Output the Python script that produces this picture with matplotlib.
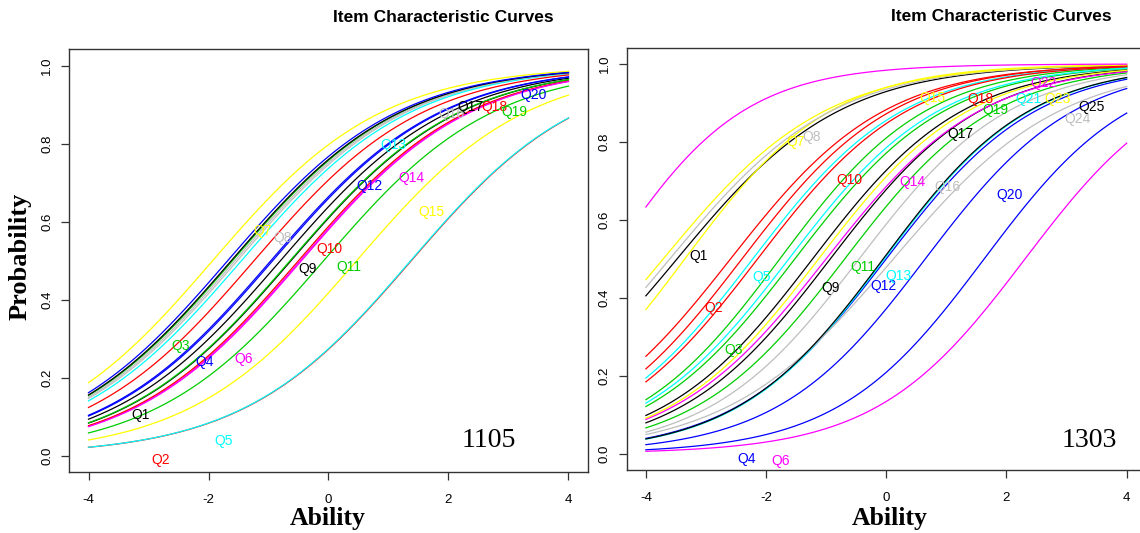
import matplotlib
matplotlib.use("Agg")
import matplotlib.pyplot as plt
import numpy as np

plt.rcParams["axes.unicode_minus"] = False

# R default palette, items cycle through it
palette = ["black", "#FF0000", "#00CD00", "#0000FF", "#00FFFF", "#FF00FF", "#FFFF00", "#BEBEBE"]

# form 1105: 20 items (discrimination, difficulty)
a_1105 = [0.71] * 20
b_1105 = [-0.80, 1.38, -1.60, -0.96, 1.37, -0.47, -1.93, -1.52, -0.625, -0.50,
          -0.08, -0.93, -1.45, -0.45, 0.47, -1.56, -1.62, -1.24, -0.64, -1.68]
labx_1105 = [-3.13, -2.79, -2.46, -2.06, -1.75, -1.41, -1.09, -0.77, -0.35, 0.02,
             0.34, 0.68, 1.08, 1.39, 1.72, 2.05, 2.36, 2.76, 3.09, 3.41]
laby_1105 = [0.105, -0.01, 0.281, 0.241, 0.037, 0.247, 0.575, 0.557, 0.479, 0.531,
             0.485, 0.692, 0.797, 0.712, 0.625, 0.875, 0.895, 0.895, 0.88, 0.926]

# form 1303: 25 items
a_1303 = [0.74, 0.80, 0.82, 0.817, 0.80, 0.808, 0.82, 0.74, 0.80, 0.80,
          0.80, 0.80, 0.82, 0.78, 0.74, 0.80, 0.80, 0.78, 0.80, 0.806,
          0.80, 0.893, 0.80, 0.72, 0.82]
b_1303 = [-3.48, -2.40, -1.77, 1.63, -2.22, 2.31, -3.35, -3.60, -0.93, -2.14,
          -0.69, 0.00, -0.03, -1.00, -3.71, -0.45, -1.225, -2.59, -1.52, 0.65,
          -1.62, -4.61, -1.125, 0.12, -0.05]
labx_1303 = [-3.13, -2.87, -2.54, -2.32, -2.07, -1.75, -1.51, -1.25, -0.93, -0.61,
             -0.39, -0.05, 0.20, 0.43, 0.76, 1.01, 1.24, 1.56, 1.81, 2.05,
             2.36, 2.61, 2.85, 3.18, 3.42]
laby_1303 = [0.508, 0.374, 0.267, -0.015, 0.453, -0.018, 0.801, 0.813, 0.424, 0.701,
             0.479, 0.431, 0.457, 0.697, 0.912, 0.685, 0.819, 0.909, 0.882, 0.665,
             0.910, 0.952, 0.910, 0.858, 0.889]

ability = np.linspace(-4, 4, 101)

fig = plt.figure(figsize=(11.4, 5.33), dpi=100)
ax1 = fig.add_axes([0.0608, 0.1144, 0.4547, 0.7931])
ax2 = fig.add_axes([0.5497, 0.1182, 0.4555, 0.7925])


def draw_panel(ax, a, b, labx, laby, form, form_pos):
    for i in range(len(a)):
        col = palette[i % 8]
        p = 1 / (1 + np.exp(-a[i] * (ability - b[i])))
        ax.plot(ability, p, color=col, lw=0.9)
        ax.text(labx[i], laby[i], "Q%d" % (i + 1), color=col, fontsize=10,
                ha="center", va="center", family="Liberation Sans")
    ax.text(form_pos[0], form_pos[1], form, fontsize=20, family="Liberation Serif",
            ha="center", va="center")
    ax.set_xlim(-4.32, 4.32)
    ax.set_ylim(-0.042, 1.042)
    ax.set_xticks([-4, -2, 0, 2, 4])
    ax.set_yticks([0, 0.2, 0.4, 0.6, 0.8, 1.0])
    ax.set_yticklabels(["0.0", "0.2", "0.4", "0.6", "0.8", "1.0"])
    ax.tick_params(direction="out", length=5.5, width=0.9, color="#333333",
                   labelsize=9.5, labelfontfamily="Liberation Sans")
    ax.tick_params(axis="x", pad=10)
    ax.tick_params(axis="y", pad=6, labelrotation=90)
    for lab in ax.get_yticklabels():
        lab.set_va("center")
    for s in ax.spines.values():
        s.set_color("#333333")
        s.set_linewidth(1.0)


draw_panel(ax1, a_1105, b_1105, labx_1105, laby_1105, "1105", (2.67, 0.038))
draw_panel(ax2, a_1303, b_1303, labx_1303, laby_1303, "1303", (3.37, 0.033))

fig.text(443 / 1140, 1 - 17.7 / 533, "Item Characteristic Curves", fontsize=12.5,
         fontweight="bold", family="Liberation Sans", ha="center", va="center")
fig.text(1001 / 1140, 1 - 16.3 / 533, "Item Characteristic Curves", fontsize=12.5,
         fontweight="bold", family="Liberation Sans", ha="center", va="center")
fig.text(20 / 1140, 1 - 256 / 533, "Probability", fontsize=19, fontweight="bold",
         family="Liberation Serif", rotation=90, ha="center", va="center")
fig.text(328 / 1140, 1 - 518 / 533, "Ability", fontsize=18.5, fontweight="bold",
         family="Liberation Serif", ha="center", va="center")
fig.text(890 / 1140, 1 - 518 / 533, "Ability", fontsize=18.5, fontweight="bold",
         family="Liberation Serif", ha="center", va="center")

fig.savefig("out.png", dpi=100)
